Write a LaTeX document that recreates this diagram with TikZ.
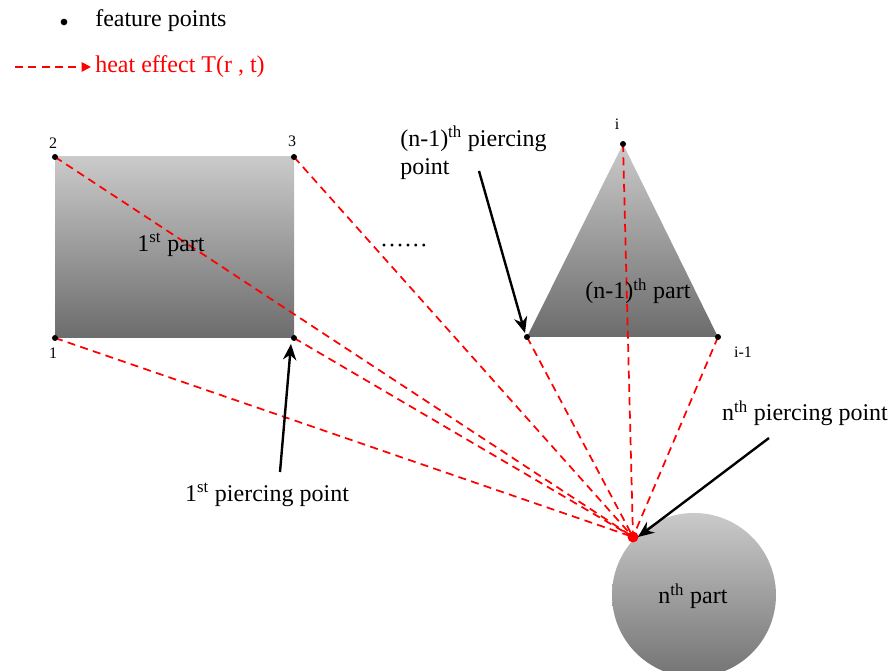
\documentclass[tikz,border=0pt]{standalone}
\usepackage{fontspec}
\setmainfont{Liberation Serif}
\usetikzlibrary{arrows.meta}
\definecolor{gtop}{RGB}{202,202,202}
\definecolor{gbot}{RGB}{108,108,108}
\tikzset{
  heat/.style={red, line width=1.3pt, dash pattern=on 6pt off 4pt},
  fpt/.style={circle, fill=black, inner sep=0pt, minimum size=4.5pt},
  lbl/.style={font=\fontsize{18}{21}\selectfont, inner sep=0pt},
  small/.style={font=\fontsize{12}{14}\selectfont, inner sep=0pt},
  pointer/.style={black, line width=1.8pt, -{Stealth[length=12pt,width=10pt]}},
  part/.style={top color=gtop, bottom color=gbot, draw=none}
}
\begin{document}
\begin{tikzpicture}[x=0.75pt,y=0.75pt]
\useasboundingbox (0,0) rectangle (894,671);
% shapes
\shade[part] (55,333) rectangle (294,514);
\shade[part] (527,334) -- (623,527) -- (718,334) -- cycle;
\shade[top color=gtop, bottom color=gbot!95] (694,76) circle (82);
% coordinates
\coordinate (p1) at (55,333);
\coordinate (p2) at (55,514);
\coordinate (p3) at (294,514);
\coordinate (p4) at (294,333);
\coordinate (ti) at (623,527);
\coordinate (tl) at (527,334);
\coordinate (tr) at (718,334);
\coordinate (cv) at (633,134);
% heat lines
\foreach \p in {p1,p2,p3,p4,ti,tl,tr} \draw[heat] (\p) -- (cv);
\fill[red] (cv) circle (5.5);
% feature points
\foreach \p in {p1,p2,p3,p4,ti,tl,tr} \node[fpt] at (\p) {};
% labels
\node[small] (l2) at (53,528) {2};
\node[small] (l3) at (292,530) {3};
\node[small] (l1) at (53,318) {1};
\node[small] (li) at (617,547) {i};
\node[small] (lim) at (743,319) {i-1};
\node[lbl] (part1) at (171,426) {1\textsuperscript{st} part};
\node[lbl] (partn1) at (638,380) {(n-1)\textsuperscript{th} part};
\node[lbl] (partn) at (693,75) {n\textsuperscript{th} part};
\node[lbl] (dots) at (404,422) {\textperiodcentered\textperiodcentered\textperiodcentered\textperiodcentered\textperiodcentered\textperiodcentered};
% piercing point labels
\node[lbl] (pp1) at (267,176) {1\textsuperscript{st} piercing point};
\node[lbl, align=left, anchor=north west] (ppn1) at (400,545) {(n-1)\textsuperscript{th} piercing\\point};
\node[lbl] (ppn) at (805,258) {n\textsuperscript{th} piercing point};
\coordinate (a1s) at (280,199);
\coordinate (a1e) at (291,327);
\coordinate (a2s) at (479,500);
\coordinate (a2e) at (525,338);
\coordinate (a3s) at (769,233);
\coordinate (a3e) at (638,134);
\draw[pointer] (a1s) -- (a1e);
\draw[pointer] (a2s) -- (a2e);
\draw[pointer] (a3s) -- (a3e);
% legend
\node[fpt, minimum size=5pt] (ld) at (64,649) {};
\node[lbl, anchor=west] (lf) at (95,650) {feature points};
\coordinate (ls) at (15,604);
\coordinate (le) at (91,604);
\draw[heat, -{Triangle[length=7pt,width=7pt]}] (ls) -- (le);
\node[lbl, anchor=west, text=red] (lh) at (95,604) {heat effect T(r , t)};
\end{tikzpicture}
\end{document}
